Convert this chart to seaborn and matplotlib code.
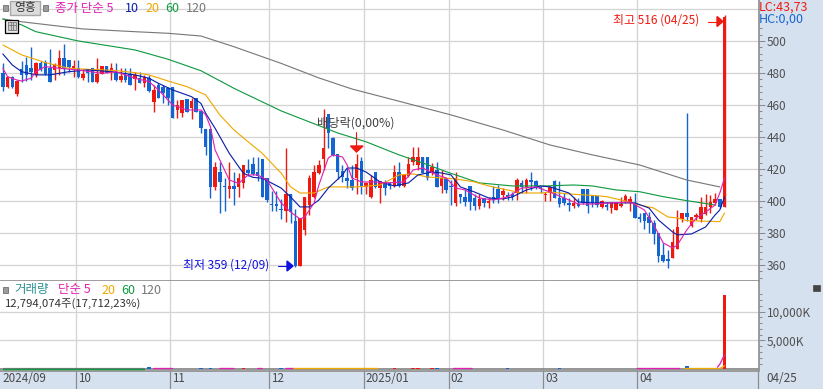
import numpy as np
import matplotlib
matplotlib.use("Agg")
import matplotlib.pyplot as plt
import seaborn as sns
from matplotlib.patches import Rectangle, Polygon

opens = [480, 471, 477.7, 466.9, 482.3, 485, 482.9, 478.8, 486, 487.1,
         482.9, 481.9, 482.9, 489.2, 488.1, 483.3, 482.9, 477.1, 482.5, 482.9,
         474.6, 479.4, 484.4, 480.8, 480.2, 475.6, 478.8, 479.4, 476, 476.7,
         474, 476.7, 462.1, 472.5, 471, 470.4, 471, 456.9, 454.8, 463.5,
         457.9, 464.6, 456.2, 444.8, 444.8, 408.5, 418.3, 409.4, 407.5, 409.4,
         408.5, 411, 419.4, 423.1, 418.3, 426.2, 414.2, 398.1, 398.1, 395.3,
         393.8, 404.2, 387.7, 359.5, 381.9, 397.5, 402.7, 417.7, 426, 454.4,
         439.2, 429.2, 419, 414.6, 413.1, 414.2, 425, 409, 402.3, 418.3,
         407.9, 412.1, 411, 409.4, 418.3, 409.4, 415.6, 424.6, 422.5, 427.7,
         427.7, 417.7, 419.4, 409.4, 414.2, 409.5, 398.5, 404.4, 402.3, 409.4,
         401.7, 396.9, 401.7, 399, 402.7, 407.3, 403.8, 403.8, 404.2, 405.2,
         411, 408.9, 413.1, 412.7, 408.5, 403.8, 404.8, 412.5, 402.1, 402.1,
         398.5, 396.9, 398.1, 407.5, 407.5, 403.1, 403.1, 396, 397.5, 395.8,
         394.4, 396.7, 400, 399, 398.1, 389.8, 392.3, 390.2, 386, 379.8,
         366.2, 363.5, 364.6, 369.8, 388.5, 392.3, 384.4, 389.8, 388.5, 391.9,
         396, 398.5, 401, 396]
closes = [471, 477.5, 471, 475, 478.8, 478.8, 480.8, 486, 481.9, 479.4,
          474.6, 485, 489.2, 482.3, 484, 484.6, 477.3, 479.4, 480.2, 474.6,
          479.4, 484.4, 479.8, 482.9, 475.6, 478.1, 475.6, 472.5, 478.8, 474,
          477.3, 469, 469.4, 464.6, 467.3, 464.2, 452.1, 460, 463.1, 455.8,
          462.7, 455.8, 445.4, 433.9, 408.5, 421, 412.1, 408.5, 409.4, 407.5,
          414.2, 422.5, 417.3, 416.9, 415.6, 402.7, 400.6, 397.3, 397.1, 394.4,
          404.4, 393.3, 359.5, 389.2, 402.3, 414.2, 418.3, 422.5, 432.9, 442.3,
          428.8, 418.3, 415.2, 412.7, 407.9, 423.1, 409.4, 411.5, 413.1, 408.5,
          412.5, 407.9, 409.4, 418.3, 409.4, 416.3, 423.1, 427.7, 427.3, 417.7,
          414.2, 421.5, 409, 414.2, 406.9, 408.5, 414.2, 402.3, 399.6, 399.6,
          396.9, 401.3, 399, 400, 400.6, 401.7, 406.5, 402.7, 402.7, 413.1,
          408.5, 413.1, 412.1, 407.9, 407.3, 404.4, 408.5, 402.1, 398.1, 399,
          397.5, 398.5, 396.9, 399, 396.9, 399, 397.5, 400.2, 396.5, 399,
          399, 397.9, 403.1, 401, 389.6, 388.8, 387.7, 386, 379.4, 365.6,
          362.5, 362.7, 374.2, 383.5, 392.3, 389.8, 389.8, 391.3, 396, 396,
          399.6, 401.2, 396, 515]
highs = [486, 477.5, 478, 475.6, 487.3, 490.2, 496.5, 487, 487.7, 488,
         494.8, 486, 494.4, 498, 488.1, 488.1, 488.1, 482.5, 482.5, 482.9,
         489.2, 484.4, 484.4, 486, 486, 482.9, 482.9, 482.9, 480.8, 480.8,
         478.8, 478.8, 472.5, 473.5, 472.5, 471.5, 471, 463.1, 463.1, 463.5,
         464.2, 464.6, 456.2, 444.8, 444.8, 424.4, 424.6, 414.1, 424.6, 418.3,
         417.3, 422.5, 426, 427.7, 427.3, 426.2, 414.2, 406.4, 406.4, 401.3,
         433.1, 404.2, 394.8, 389.2, 402.3, 416.3, 422.5, 425.6, 457.3, 454.4,
         440, 429.2, 422.5, 420.4, 422.5, 429.4, 427.7, 412.1, 416.3, 418.3,
         412.5, 413.1, 412.1, 422.5, 424.6, 416.3, 427.7, 433.9, 433.9, 427.7,
         427.7, 423.5, 424.6, 419.4, 414.2, 413.1, 418.3, 404.4, 407.3, 409.4,
         404.4, 404.4, 401.7, 402.7, 409.4, 410, 407.9, 405.8, 405.8, 414.2,
         413.1, 414.2, 418.3, 413.1, 408.5, 405.8, 409.4, 413.1, 412.5, 404.8,
         401.7, 402.3, 401.7, 407.5, 407.5, 403.1, 403.1, 400.6, 399.6, 399.6,
         399.6, 402.7, 404.4, 403.1, 404.8, 392.7, 392.7, 393.3, 388.1, 379.8,
         373.5, 369.4, 382.5, 394.4, 392.3, 455, 389.8, 392.7, 402.7, 404.4,
         403.8, 404.8, 401, 516]
lows = [469, 470.5, 470.5, 465.6, 474.6, 475, 475.6, 477.7, 481.5, 478.8,
        474.6, 475.6, 478.8, 478.8, 480.8, 477.3, 476.7, 475.6, 474.6, 474.6,
        473.5, 479.4, 479.8, 475.6, 475.2, 474.6, 474.6, 472.5, 469.4, 473.5,
        471.5, 468.3, 455.8, 464.2, 461, 460, 452.1, 452.1, 452.7, 455.8,
        451, 455.8, 442.7, 428.7, 402.1, 406.9, 392.3, 393.7, 402.1, 397.5,
        402.7, 407.9, 415.6, 416.3, 412.7, 402.7, 399.6, 394, 394, 388.8,
        386.9, 386, 359, 359.5, 378.8, 391.3, 401.7, 417, 419.4, 432.9,
        428.1, 413.5, 412.1, 407.9, 406.9, 404.4, 404.4, 404.4, 401.7, 407.9,
        399, 403.8, 407.3, 409, 409, 409, 415.2, 422.5, 419.4, 417.7,
        413.1, 416.3, 408.5, 404.8, 404.8, 397.5, 396.9, 398.5, 396.9, 394.4,
        394.4, 394.8, 396.5, 395.4, 399, 399, 400.6, 400.6, 400.6, 400.6,
        404.8, 404.8, 406.9, 407.3, 405.2, 400, 400, 401.7, 396, 397.5,
        394, 395.4, 396.5, 398.1, 392.7, 396, 396.5, 395.4, 394.4, 392.7,
        394.4, 396, 398.5, 394, 389.2, 387.1, 382.5, 379.8, 373.1, 362.1,
        362.1, 358, 364.6, 369.8, 387.1, 387.7, 384, 388.1, 387.1, 391.3,
        392.3, 397.5, 395.4, 396]
volumes = [90, 70, 80, 70, 90, 80, 70, 60, 70, 80,
           90, 70, 80, 90, 70, 60, 70, 80, 70, 60,
           70, 80, 60, 70, 80, 70, 60, 70, 80, 70,
           90, 400, 110, 90, 80, 70, 90, 80, 70, 80,
           70, 80, 300, 90, 300, 80, 100, 90, 80, 70,
           90, 300, 80, 70, 90, 100, 80, 70, 90, 300,
           100, 90, 120, 110, 90, 80, 70, 100, 110, 90,
           80, 70, 60, 70, 80, 90, 80, 70, 60, 70,
           80, 70, 60, 300, 70, 60, 70, 300, 300, 70,
           60, 300, 300, 70, 60, 70, 300, 70, 60, 70,
           60, 70, 60, 70, 60, 70, 60, 300, 60, 70,
           60, 70, 60, 70, 60, 60, 70, 60, 300, 70,
           60, 70, 60, 70, 60, 70, 60, 70, 60, 60,
           70, 60, 70, 60, 70, 60, 70, 60, 70, 60,
           70, 90, 90, 80, 70, 600, 90, 70, 60, 70,
           60, 70, 80, 12794]

ma5_idx = [0, 1, 3, 4, 6, 7, 9, 12, 16, 21, 24, 28, 31, 33, 36, 39, 42, 43, 44, 45,
           47, 48, 50, 52, 54, 56, 59, 61, 63, 64, 66, 67, 69, 70, 72, 73, 74, 76, 79,
           81, 85, 87, 89, 92, 94, 96, 98, 101, 104, 107, 110, 113, 116, 119, 122, 125,
           129, 133, 136, 138, 140, 142, 143, 145, 147, 149, 151, 152, 153]
ma5_val = [482.9, 477.7, 475.6, 475, 476.7, 480.8, 484, 482.9, 481.9, 479.8, 480.8, 476.7,
           474.6, 469.4, 460, 456.9, 456.9, 453.8, 446.5, 431.9, 419.4, 413.1, 411, 416.3,
           416.3, 413.1, 398.8, 393.1, 388.8, 390, 398.8, 410, 426.9, 428.8, 427.5, 422.5,
           414.4, 411.9, 411.9, 411.3, 411.9, 419.4, 420.6, 416.3, 414.4, 408.1, 406.9,
           401.9, 400.6, 402.5, 408.1, 408.8, 405.6, 401.9, 398.1, 398.1, 398.8, 399.4,
           394.4, 385, 373.8, 370.6, 372.5, 381.9, 389.4, 393.1, 397.5, 405, 414.4]
ma10_idx = [0, 2, 4, 7, 10, 14, 18, 23, 28, 31, 33, 36, 40, 42, 43, 45, 48, 51, 53, 55,
            59, 61, 63, 65, 67, 69, 72, 73, 75, 77, 80, 83, 86, 88, 91, 93, 95, 97, 100,
            103, 106, 108, 111, 114, 116, 120, 122, 125, 130, 134, 137, 139, 142, 143,
            146, 149, 151, 152, 153]
ma10_val = [491.9, 485, 480.8, 478.8, 478.8, 480.8, 481.9, 480.8, 478.8, 476.7, 473.5,
            469.4, 465.2, 461, 454.8, 445.4, 429.8, 417.3, 414.8, 414.2, 408.1, 402.5,
            396.3, 396.3, 400.6, 408.1, 416.3, 420.6, 420.6, 418.1, 411.9, 409.4, 411.3,
            416.3, 418.1, 417.5, 416.3, 408.8, 405.6, 401.9, 401.3, 402.5, 406.9, 409.4,
            408.8, 405, 399.4, 398.8, 398.8, 398.8, 395.6, 388.1, 380.6, 378.8, 379.4,
            383.8, 391.3, 394.4, 402.5]
ma20_idx = [0, 4, 9, 14, 18, 24, 28, 31, 35, 39, 43, 46, 49, 52, 55, 58, 59, 61, 63, 66,
            69, 75, 80, 82, 84, 87, 90, 93, 96, 100, 103, 106, 110, 114, 116, 120, 126,
            128, 132, 135, 138, 141, 143, 145, 152, 153]
ma20_val = [497.5, 491.3, 486.5, 482.9, 482.3, 481.5, 480.2, 478.8, 475, 471.5, 466.3,
            453.8, 444.4, 437, 429.8, 420.4, 417.5, 408.8, 405, 405, 408.8, 408.8, 410,
            413.1, 416.3, 416.9, 415, 414.4, 413.8, 411.9, 409.4, 407.5, 405, 405, 405.6,
            404.4, 403.3, 402.7, 400, 397.5, 395.6, 390, 389.4, 387.7, 387.1, 392.5]
ma60_idx = [0, 4, 7, 16, 28, 35, 42, 49, 59, 71, 77, 84, 89, 94, 101, 108, 115, 121, 125,
            130, 135, 140, 145, 151]
ma60_val = [513.75, 510, 505.8, 500, 494.4, 488.6, 481.4, 470.4, 456.3, 442.5, 437, 428.8,
            423.8, 418.3, 411.3, 409.4, 409.4, 410, 409.4, 406.9, 405.8, 402.7, 400.2, 397.5]
ma120_idx = [0, 4, 17, 28, 35, 42, 49, 59, 67, 74, 83, 95, 106, 116, 125, 135, 145, 152]
ma120_val = [513.75, 512, 507.5, 505.8, 504.8, 503.1, 496.4, 486, 476.9, 470, 463.1, 453.8,
             444.4, 435, 428.8, 422.5, 413.1, 408.8]

nan = float("nan")
vol5_idx = [32, 36, nan, 46, 49, nan, 54, 55, nan, 60, 61.5, nan, 95.5, 99.5, nan, 134.5, 143.5, nan, 151.5, 152, 153]
vol5_val = [172, 172, nan, 172, 172, nan, 172, 172, nan, 172, 172, nan, 172, 172, nan, 172, 172, nan, 400, 900, 2559]
vol20_idx = [61.5, 79.5, nan, 144.5, 152, 153]
vol20_val = [172, 172, nan, 172, 172, 640]
vol60_idx = [0, 30]
vol60_val = [0, 0]
vol120_idx = [0, 30]
vol120_val = [172, 172]

month_ticks = [15.5, 35.5, 56.5, 76.5, 94.5, 114.5, 134.5]
month_labels = ["10", "11", "12", "2025/01", "02", "03", "04"]
price_ticks = [360, 380, 400, 420, 440, 460, 480, 500]
vol_ticks = [5000, 10000]
vol_labels = ["5,000K", "10,000K"]

RED = "#ee1a10"
BLUE = "#1464d2"
MAGENTA = "#e020b0"
NAVY = "#0a1fa8"
ORANGE = "#f0a800"
GREEN = "#109a40"
GREY = "#787878"
AXIS = "#8c8c8c"
PANEL = "#d6e1f0"
LW = 0.72

sns.set_style("white")
plt.rcParams["font.family"] = ["Noto Sans CJK KR", "DejaVu Sans"]

W, H = 823, 389
fig = plt.figure(figsize=(W / 100, H / 100), dpi=100, facecolor=PANEL)
ax = fig.add_axes([0, (H - 281) / H, 758.5 / W, 281 / H])
ax_v = fig.add_axes([0, (H - 371) / H, 758.5 / W, 90 / H])

x_lim = (-0.6, 160.2)
x = np.arange(len(opens))
o = np.array(opens)
c = np.array(closes)
colors = [RED if b > a else BLUE for a, b in zip(o, c)]

wicks = ax.vlines(x, lows, highs, colors=colors, linewidth=1.0, zorder=3)
wicks.set_snap(True)
ax.bar(x, np.abs(c - o), bottom=np.minimum(o, c), width=0.74, color=colors, linewidth=0, zorder=3)

sns.lineplot(x=ma120_idx, y=ma120_val, color=GREY, linewidth=LW + 0.1, ax=ax, zorder=4)
sns.lineplot(x=ma60_idx, y=ma60_val, color=GREEN, linewidth=LW + 0.1, ax=ax, zorder=4)
sns.lineplot(x=ma20_idx, y=ma20_val, color=ORANGE, linewidth=LW + 0.1, ax=ax, zorder=4)
sns.lineplot(x=ma10_idx, y=ma10_val, color=NAVY, linewidth=LW + 0.1, ax=ax, zorder=4)
sns.lineplot(x=ma5_idx, y=ma5_val, color=MAGENTA, linewidth=LW + 0.1, ax=ax, zorder=4)

ax.set_xlim(*x_lim)
ax.set_ylim(350, 525.6)
ax.set_yticks(price_ticks)
ax.set_yticks(np.arange(352, 509, 4), minor=True)
ax.set_xticks(month_ticks)
ax.set_xticklabels([])

ax_v.bar(x, volumes, width=0.74, color=colors, linewidth=0, zorder=3)
ax_v.axhline(0, color=GREY, linewidth=1.1, zorder=2)
ax_v.plot(vol120_idx, vol120_val, color=GREY, linewidth=0.85, zorder=4)
ax_v.plot(vol60_idx, vol60_val, color=GREEN, linewidth=1.0, zorder=4)
ax_v.plot(vol20_idx, vol20_val, color=ORANGE, linewidth=0.95, zorder=4)
ax_v.plot(vol5_idx, vol5_val, color=MAGENTA, linewidth=0.95, zorder=5)
ax_v.set_xlim(*x_lim)
ax_v.set_ylim(-260, 15260)
ax_v.set_yticks(vol_ticks)
ax_v.set_yticklabels(vol_labels)
ax_v.set_yticks(np.arange(1000, 14000, 1000), minor=True)
ax_v.set_xticks(month_ticks)
ax_v.set_xticklabels([])

for a in (ax, ax_v):
    a.set_facecolor("white")
    a.yaxis.tick_right()
    a.grid(True, axis="both", color="#d4d4d4", linewidth=LW + 0.2, zorder=0)
    a.set_axisbelow(True)
    a.tick_params(axis="y", which="major", direction="out", length=4.3, width=0.75, color=AXIS,
                  labelcolor="#505050", labelsize=8.5, pad=1.8, right=True)
    a.tick_params(axis="y", which="minor", direction="out", length=2.2, width=0.75, color=AXIS, right=True)
    for s in a.spines.values():
        s.set_visible(False)
    a.spines["right"].set_visible(True)
    a.spines["right"].set_color(AXIS)
    a.spines["right"].set_linewidth(1.2)
    a.spines["bottom"].set_visible(True)
    a.spines["bottom"].set_color(AXIS)
    a.spines["bottom"].set_linewidth(1.2)
ax.tick_params(axis="x", length=0)
ax_v.tick_params(axis="x", direction="out", length=13, width=0.9, color=AXIS, bottom=True)
ax.axhline(520, color="#d4d4d4", linewidth=LW + 0.2, zorder=0)

# everything below is placed in image pixels
ov = fig.add_axes([0, 0, 1, 1], zorder=10)
ov.set_xlim(0, W)
ov.set_ylim(H, 0)
ov.axis("off")
ov.patch.set_alpha(0)


def put(px, py, s, color, size=8.5, ha="left"):
    ov.text(px, py, s, color=color, fontsize=size, ha=ha, va="center")


def square(px, py, w=5, h=6):
    ov.add_patch(Rectangle((px, py), w, h, facecolor="#9c9c9c", edgecolor="#7c7c7c", linewidth=0.7))


# header of the price panel
square(3, 5)
ov.add_patch(Rectangle((10, 1), 30, 14, facecolor="#dcdcdc", edgecolor="#a8a8a8", linewidth=1))
put(25, 7.5, "영흥", "#333333", ha="center")
square(43, 5)
put(55, 8, "종가 단순 5", MAGENTA, size=9)
put(125, 8, "10", NAVY, size=9)
put(145, 8, "20", ORANGE, size=9)
put(165, 8, "60", GREEN, size=9)
put(186, 8, "120", GREY, size=9)

# little table button
ov.add_patch(Rectangle((5.5, 19.5), 13, 13, facecolor="#e8e8e8", edgecolor="black", linewidth=0.9))
ov.add_patch(Rectangle((8, 22), 8, 8, facecolor="#d0d0d0", edgecolor="#777777", linewidth=0.6))
ov.vlines([10.7, 13.4], 22, 30, color="#777777", linewidth=0.6)
ov.hlines(25, 8, 16, color="#777777", linewidth=0.6)

# header of the volume panel
square(3, 287)
put(14, 290, "거래량", "#2a9090", size=9)
put(58, 290, "단순 5", MAGENTA, size=9)
put(101, 290, "20", ORANGE, size=9)
put(121, 290, "60", GREEN, size=9)
put(141, 290, "120", GREY, size=9)
put(5, 304, "12,794,074주(17,712,23%)", "#333333", size=8.2)
ov.add_patch(Rectangle((813, 285), 7, 6, facecolor="#444444", edgecolor="#444444", linewidth=0.5))

put(759, 7, "LC:43,73", RED, size=9)
put(759, 19, "HC:0,00", BLUE, size=9)

# high, low and ex-dividend marks
put(613, 20.5, "최고 516 (04/25)", RED, size=8.6)
ov.plot([708, 718], [21.5, 21.5], color=RED, linewidth=0.8)
ov.add_patch(Polygon([(717, 16.5), (723, 21.5), (717, 26.5)], color=RED))
put(183, 265, "최저 359 (12/09)", "#1010e0", size=8.6)
ov.plot([278, 288], [266, 266], color="#1010e0", linewidth=0.8)
ov.add_patch(Polygon([(287, 261), (293, 266), (287, 271)], color="#1010e0"))
put(317, 123.5, "배당락(0,00%)", "#404040", size=8.8)
ov.plot([356.5, 356.5], [132, 146], color=RED, linewidth=0.8)
ov.add_patch(Polygon([(350.5, 146), (363, 146), (356.5, 152)], color=RED))

# date band
put(2, 379, "2024/09", "#484848", size=8.4)
for t, lab in zip(month_ticks, month_labels):
    put((t - x_lim[0]) / (x_lim[1] - x_lim[0]) * 758.5 + 2, 379, lab, "#484848", size=8.4)
ov.vlines(758.5, 371, 389, color=AXIS, linewidth=0.9)
put(766, 379, "04/25", "#484848", size=8.4)

fig.savefig("out.png", dpi=100, facecolor=PANEL)
